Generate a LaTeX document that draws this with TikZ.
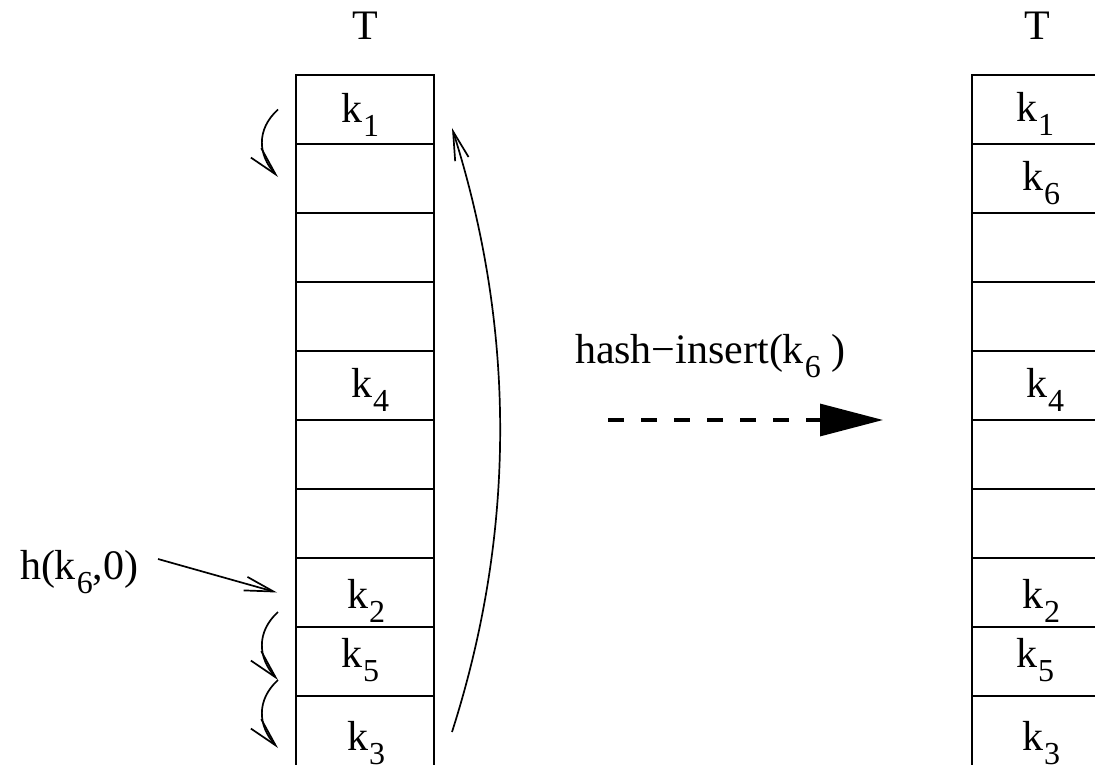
\documentclass[tikz,border=0pt]{standalone}
\usepackage{fontspec}
\setmainfont{Liberation Serif}
\usetikzlibrary{arrows.meta}
\newcommand{\subdig}[1]{\raisebox{-14pt}{\fontsize{32}{32}\selectfont #1}}
\newcommand{\kk}[1]{k\hspace{1pt}\subdig{#1}}
\tikzset{
  cell/.style={draw, line width=1.9pt, minimum width=138pt, minimum height=69pt, inner sep=0pt, outer sep=0pt},
  lastcell/.style={cell, minimum height=80pt},
  lab/.style={inner sep=0pt, outer sep=0pt, font=\fontsize{42}{50}\selectfont},
  barb/.style={line width=1.7pt, -{Straight Barb[length=29pt,width=14pt,line width=1.7pt]}},
  bigdash/.style={line width=3.2pt, dash pattern=on 16pt off 17pt, -{Triangle[length=63pt,width=32pt]}}
}
\begin{document}
\begin{tikzpicture}[x=1pt,y=-1pt]
\useasboundingbox (0,0) rectangle (1095,765);
\clip (0,0) rectangle (1095,765);
% tables
\foreach \i in {1,...,9} {
  \node[cell] (L\i) at (365,{109.5+69*(\i-1)}) {};
  \node[cell] (R\i) at (1041,{109.5+69*(\i-1)}) {};
}
\node[lastcell] (L10) at (365,736) {};
\node[lastcell] (R10) at (1041,736) {};
% titles
\node[lab, anchor=base] (TL) at (365,40) {T};
\node[lab, anchor=base] (TR) at (1037,40) {T};
% left labels
\node[lab, anchor=base west] (lk1) at (341,123) {\kk{1}};
\node[lab, anchor=base west] (lk4) at (351,397) {\kk{4}};
\node[lab, anchor=base west] (lk2) at (347,608) {\kk{2}};
\node[lab, anchor=base west] (lk5) at (341,667) {\kk{5}};
\node[lab, anchor=base west] (lk3) at (347,750) {\kk{3}};
% right labels
\node[lab, anchor=base west] (rk1) at (1016,122) {\kk{1}};
\node[lab, anchor=base west] (rk6) at (1022,190) {\kk{6}};
\node[lab, anchor=base west] (rk4) at (1026,397) {\kk{4}};
\node[lab, anchor=base west] (rk2) at (1022,608) {\kk{2}};
\node[lab, anchor=base west] (rk5) at (1016,667) {\kk{5}};
\node[lab, anchor=base west] (rk3) at (1022,750) {\kk{3}};
% h label and arrow
\node[lab, anchor=base west] (h) at (20,579) {h(\kk{6},0)};
\coordinate (hs) at (158,559);
\draw[barb] (hs) -- ([shift={(-19,0)}]L8.west);
% probe arrows
\draw[barb] ([shift={(-18,0)}]L1.west) .. controls +(-22,20) and +(-20,-22) .. ([shift={(-18,-1.5)}]L2.west);
\draw[barb] ([shift={(-18,19.5)}]L8.west) .. controls +(-22,20) and +(-20,-22) .. ([shift={(-18,18.5)}]L9.west);
\draw[barb] ([shift={(-18,18.5)}]L9.west) .. controls +(-22,20) and +(-20,-22) .. ([shift={(-18,12)}]L10.west);
% wrap-around arrow
\draw[barb] ([shift={(18,-4)}]L10.east) .. controls +(64,-200) and +(64,202) .. ([shift={(18,18.5)}]L1.east);
% operation
\node[lab, anchor=base west] (op) at (575,363) {hash−insert(\kk{6}\ )};
\coordinate (d1) at (608,420);
\coordinate (d2) at (883,420);
\draw[bigdash] (d1) -- (d2);
\end{tikzpicture}
\end{document}
